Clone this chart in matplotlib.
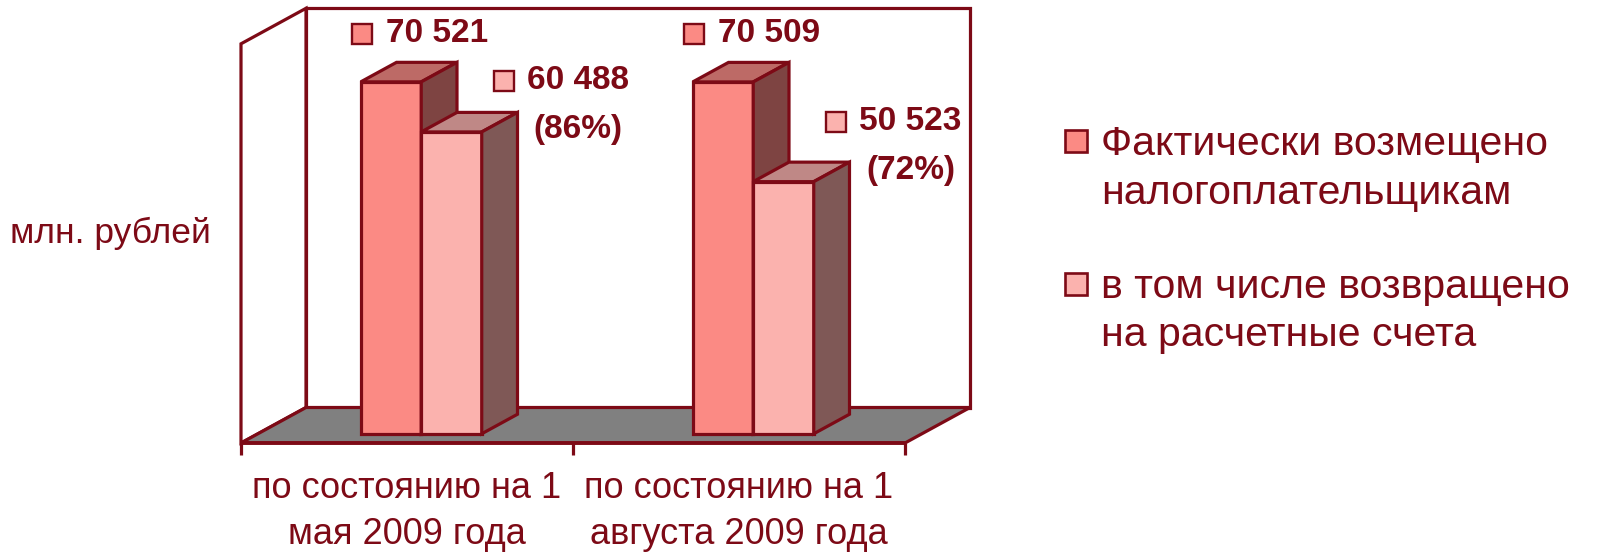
import matplotlib
matplotlib.use("Agg")
import matplotlib.pyplot as plt
from matplotlib.patches import Polygon, Rectangle
from matplotlib.transforms import offset_copy

# ---------------- data ----------------
categories = ["по состоянию на 1\nмая 2009 года",
              "по состоянию на 1\nавгуста 2009 года"]
series_names = ["Фактически возмещено\nналогоплательщикам",
                "в том числе возвращено\nна расчетные счета"]
reimbursed = [70521, 70509]
returned = [60488, 50523]
axis_max = 80000
unit_label = "млн. рублей"

# ---------------- style ----------------
plt.rcParams["font.family"] = ["Liberation Sans", "DejaVu Sans"]
EDGE = "#7d0a16"
LW = 2.3
FRONT = ["#fb8a84", "#fbb2ae"]
TOP = ["#bd6a66", "#bf8886"]
SIDE = ["#7e4442", "#7f5856"]
FLOOR = "#808080"

W_PX, H_PX = 1604, 553
fig = plt.figure(figsize=(W_PX / 100, H_PX / 100), dpi=100)
ax = fig.add_axes([0, 0, 1, 1])
ax.set_axis_off()

# axes scale: 1 category = 332 px, 1 value unit = ~0.005 px
PX_CAT = 332.0
PX_VAL = 0.00499
X0, Y0 = 241.0, 443.0   # pixel position of (category -0.5, value 0) in the front plane
ax.set_xlim(-0.5 - X0 / PX_CAT, -0.5 + (W_PX - X0) / PX_CAT)
ax.set_ylim(-(H_PX - Y0) / PX_VAL, Y0 / PX_VAL)

# oblique depth projection
DX = 65 / PX_CAT
DY = 35.5 / PX_VAL


def P(x, y, d):
    return (x + d * DX, y + d * DY)


n = len(categories)
xa, xb = -0.5, n - 0.5

# walls and floor
ax.add_patch(Polygon([P(xa, 0, 1), P(xb, 0, 1), P(xb, axis_max, 1), P(xa, axis_max, 1)],
                     closed=True, fc="white", ec=EDGE, lw=LW, joinstyle="miter", zorder=1))
ax.add_patch(Polygon([P(xa, 0, 0), P(xa, 0, 1), P(xa, axis_max, 1), P(xa, axis_max, 0)],
                     closed=True, fc="white", ec=EDGE, lw=LW, joinstyle="miter", zorder=1))
ax.add_patch(Polygon([P(xa, 0, 0), P(xb, 0, 0), P(xb, 0, 1), P(xa, 0, 1)],
                     closed=True, fc=FLOOR, ec=EDGE, lw=LW, joinstyle="miter", zorder=1.5))

# category axis line + ticks
tick_len = 12 / PX_VAL
ax.plot([xa, xb], [0, 0], color=EDGE, lw=LW + 0.4, zorder=2, solid_capstyle="butt")
for k in range(n + 1):
    ax.plot([xa + k, xa + k], [0, -tick_len], color=EDGE, lw=LW, zorder=2,
            solid_capstyle="butt")

# bars
d0, d1 = 0.26, 0.81
wd = d1 - d0
bw = 60.5 / PX_CAT
shift = -0.008
offsets = [shift - bw, shift]
series = [reimbursed, returned]

# label offsets in pixels relative to the bar's front-top-left corner
sq_dx = [1, 83]
tx_dx = [25, 106]
lab_dy = [[48, 48], [51, 60]]

for s, vals in enumerate(series):
    z = 3 + s
    lefts = [i + offsets[s] + d0 * DX for i in range(n)]
    base = d0 * DY
    ax.bar(lefts, vals, width=bw, bottom=base, align="edge", color=FRONT[s],
           edgecolor=EDGE, lw=LW, zorder=z)
    for i, v in enumerate(vals):
        xl = lefts[i]
        xr = xl + bw
        top = base + v
        ax.add_patch(Polygon([(xl, top), (xr, top), (xr + wd * DX, top + wd * DY),
                              (xl + wd * DX, top + wd * DY)], closed=True,
                             fc=TOP[s], ec=EDGE, lw=LW, joinstyle="miter", zorder=z))
        ax.add_patch(Polygon([(xr, base), (xr + wd * DX, base + wd * DY),
                              (xr + wd * DX, top + wd * DY), (xr, top)], closed=True,
                             fc=SIDE[s], ec=EDGE, lw=LW, joinstyle="miter", zorder=z))
        # data label
        dy = lab_dy[s][i]
        tr = offset_copy(ax.transData, fig=fig, x=sq_dx[s], y=dy, units="dots")
        ax.plot([xl], [top], marker="s", ms=14.5, mfc=FRONT[s], mec=EDGE, mew=1.7,
                transform=tr, zorder=10, clip_on=False)
        txt = f"{v:,}".replace(",", " ")
        t1 = ax.annotate(txt, xy=(xl, top), xytext=(tx_dx[s], dy), textcoords="offset pixels",
                         ha="left", va="center", fontsize=24, fontweight="bold",
                         color=EDGE, zorder=10)
        if s == 1:
            pct = round(100 * v / reimbursed[i])
            ax.annotate(f"({pct}%)", xy=(0.5, 0.5), xycoords=t1, xytext=(0, -49),
                        textcoords="offset pixels", ha="center", va="center",
                        fontsize=24, fontweight="bold", color=EDGE, zorder=10)

# category labels
for i, lab in enumerate(categories):
    for j, line in enumerate(lab.split("\n")):
        ax.annotate(line, xy=(i, 0), xytext=(0, -45 - 47 * j), textcoords="offset pixels",
                    ha="center", va="center", fontsize=26, color=EDGE)

# unit label
fig.text(10 / W_PX, 1 - 233 / H_PX, unit_label, ha="left", va="center",
         fontsize=25.5, color=EDGE)

# legend (drawn manually)
for k, name in enumerate(series_names):
    cy = 141 + 142.5 * k
    fig.add_artist(Rectangle((1065 / W_PX, 1 - (cy + 11) / H_PX), 22 / W_PX, 22 / H_PX,
                             transform=fig.transFigure, fc=FRONT[k], ec=EDGE, lw=1.9))
    for j, line in enumerate(name.split("\n")):
        fig.text(1101 / W_PX, 1 - (cy + 3 + 49 * j) / H_PX, line, ha="left", va="center",
                 fontsize=29.5, color=EDGE)

fig.savefig("out.png", dpi=100)
